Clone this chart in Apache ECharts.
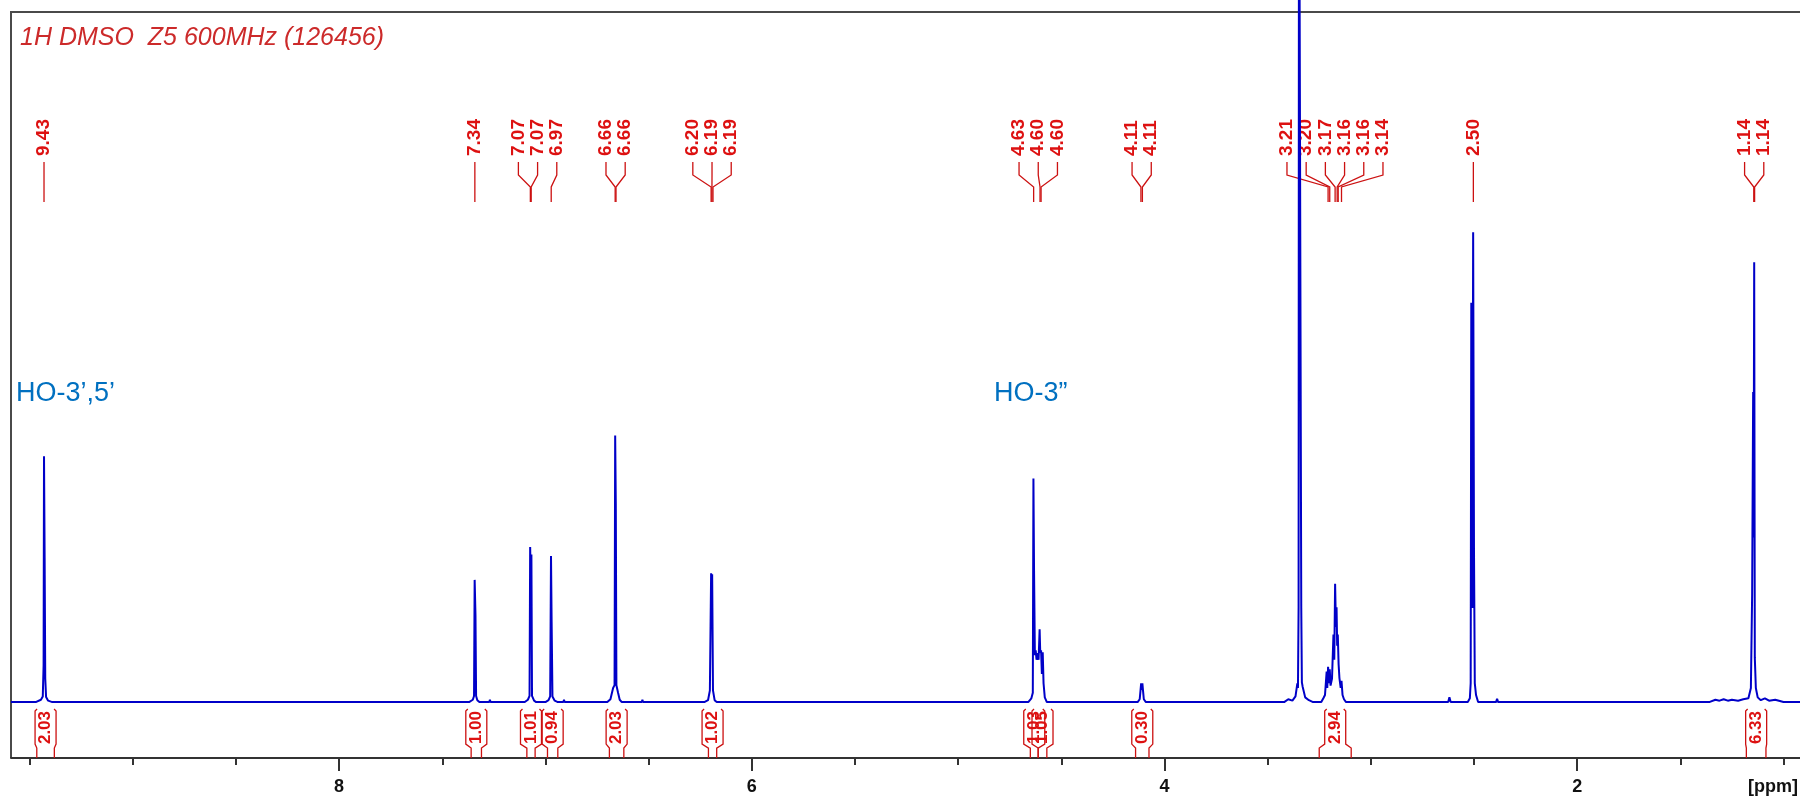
<!DOCTYPE html>
<html>
<head>
<meta charset="utf-8">
<script src="https://cdn.jsdelivr.net/npm/echarts@6/dist/echarts.min.js"></script>
<style>
  html, body { margin: 0; padding: 0; background: #fff; }
  #chart { width: 1800px; height: 800px; }
</style>
</head>
<body>
<div id="chart"></div>
<script>
// axis range (ppm, high field on the right)
const ppmMax = 9.59
const ppmMin = 0.92
const minorTicks = [9.5, 9, 8.5, 8, 7.5, 7, 6.5, 6, 5.5, 5, 4.5, 4, 3.5, 3, 2.5, 2, 1.5, 1]
const majorTicks = [8, 6, 4, 2]
// intensity, relative (DMSO 2.50 ~ 100)
const yMin = -11.9
const yMax = 149.4

// spectrum: [ppm, intensity]
const sigOH35 = [[9.47, 0], [9.445, 0.5], [9.436, 1.2], [9.432, 7.9], [9.430, 52.3], [9.427, 30.7], [9.424, 5], [9.42, 1.1], [9.41, 0.3], [9.39, 0]]
const sigH2 = [[7.37, 0], [7.352, 0.5], [7.346, 1.3], [7.343, 26.0], [7.339, 18.5], [7.336, 1.3], [7.33, 0.4], [7.32, 0]]
const sigH6 = [[7.10, 0], [7.085, 0.5], [7.077, 1.3], [7.074, 33.0], [7.071, 25], [7.068, 31.4], [7.065, 1.3], [7.055, 0.3], [7.045, 0]]
const sigH5 = [[7.00, 0], [6.985, 0.4], [6.977, 1.2], [6.973, 31.1], [6.970, 17.2], [6.966, 1.2], [6.955, 0.3], [6.94, 0]]
const sigH26 = [[6.70, 0], [6.685, 0.6], [6.672, 3.0], [6.665, 3.6], [6.662, 56.7], [6.659, 42.3], [6.656, 3.6], [6.648, 2.0], [6.64, 0.5], [6.63, 0]]
const sigH4 = [[6.23, 0], [6.212, 0.4], [6.203, 2.5], [6.197, 27.4], [6.195, 20], [6.192, 27.2], [6.188, 2.5], [6.18, 0.4], [6.17, 0]]
const sigOH3 = [[4.66, 0], [4.645, 0.8], [4.638, 2], [4.635, 47.6], [4.632, 27.9], [4.628, 10], [4.624, 11], [4.620, 9], [4.614, 10.4], [4.610, 9], [4.605, 15.5], [4.602, 10.5], [4.598, 11], [4.594, 6], [4.590, 10.6], [4.586, 4], [4.58, 1], [4.57, 0]]
const sigH3 = [[4.13, 0], [4.12, 0.6], [4.116, 2.5], [4.113, 4.0], [4.110, 2.6], [4.107, 4.0], [4.104, 2.5], [4.10, 0.6], [4.09, 0]]
const sigWater = [[3.42, 0], [3.40, 0.6], [3.38, 0.3], [3.365, 1.2], [3.356, 4.0], [3.353, 3], [3.350, 20], [3.348, 200], [3.339, 200], [3.337, 20], [3.334, 4.2], [3.33, 3.2], [3.325, 3.6], [3.318, 1.0], [3.30, 0.4], [3.28, 0]]
const sigSugar = [[3.24, 0], [3.23, 0.8], [3.222, 1.5], [3.214, 6.5], [3.211, 3], [3.207, 7.5], [3.203, 4], [3.199, 7.0], [3.195, 3.5], [3.188, 5], [3.181, 14.4], [3.177, 9], [3.173, 25.2], [3.169, 16], [3.166, 20.2], [3.163, 12], [3.160, 14.4], [3.156, 8], [3.152, 5.1], [3.146, 3], [3.142, 4.5], [3.137, 1.5], [3.13, 0.6], [3.12, 0]]
const sigDmso = [[2.53, 0], [2.52, 0.8], [2.516, 4], [2.513, 85], [2.508, 20], [2.504, 100], [2.500, 32.6], [2.496, 4], [2.49, 1.5], [2.48, 0]]
const sigMe = [[1.36, 0], [1.33, 0.5], [1.31, 0.3], [1.29, 0.6], [1.27, 0.3], [1.25, 0.5], [1.22, 0.3], [1.195, 0.6], [1.17, 0.8], [1.158, 3], [1.152, 22.8], [1.147, 66], [1.145, 35], [1.142, 93.6], [1.139, 9.4], [1.134, 3], [1.125, 1.0], [1.11, 0.4], [1.09, 0.8], [1.07, 0.3], [1.04, 0.5], [1.00, 0]]
const smallBumps = [[7.272, 0], [7.269, 0.5], [7.266, 0], [6.913, 0], [6.91, 0.5], [6.907, 0], [6.812, 0], [6.809, 0.4], [6.806, 0],
  [6.793, 0], [6.79, 0.4], [6.787, 0], [6.723, 0], [6.72, 0.4], [6.717, 0], [6.533, 0], [6.53, 0.5], [6.527, 0],
  [3.05, 0], [3.047, 0.4], [3.044, 0], [2.625, 0], [2.619, 1.0], [2.613, 0], [2.393, 0], [2.388, 0.7], [2.383, 0], [1.903, 0], [1.90, 0.3], [1.897, 0]]

// peak picking (ppm)
const peakPpm = [9.430, 7.342, 7.073, 7.069, 6.972, 6.662, 6.658, 6.197, 6.193, 6.188, 4.634, 4.603, 4.598, 4.114, 4.107, 3.207, 3.199, 3.173, 3.163, 3.158, 3.142, 2.503, 1.144, 1.140]

// integrals
const integralFrom = [9.465, 7.36, 7.09, 6.99, 6.69, 6.21, 4.65, 4.612, 4.14, 3.25, 1.18]
const integralTo = [9.38, 7.31, 7.05, 6.94, 6.62, 6.17, 4.612, 4.57, 4.075, 3.095, 1.085]
const integralValues = [2.03, 1.00, 1.01, 0.94, 2.03, 1.02, 1.03, 1.05, 0.30, 2.94, 6.33]

const RED_TEXT = '#dd1111'
const RED_LINE = '#cc1111'
const LABEL_GAP = 19.2

let spectrum = [[ppmMax, 0], [ppmMin, 0]].concat(sigOH35, sigH2, sigH6, sigH5, sigH26, sigH4, sigOH3, sigH3,
  sigWater, sigSugar, sigDmso, sigMe, smallBumps)
spectrum.sort((a, b) => b[0] - a[0])

// spread labels that would overlap, keeping groups centred on their peaks
function spreadLabels(xs) {
  let clusters = xs.map((x, i) => ({ items: [i], sum: x }))
  const place = c => { c.start = c.sum / c.items.length - (c.items.length - 1) * LABEL_GAP / 2 }
  clusters.forEach(place)
  let changed = true
  while (changed) {
    changed = false
    for (let i = 0; i < clusters.length - 1; i++) {
      const a = clusters[i], b = clusters[i + 1]
      if (a.start + a.items.length * LABEL_GAP > b.start) {
        a.items = a.items.concat(b.items)
        a.sum += b.sum
        place(a)
        clusters.splice(i + 1, 1)
        changed = true
        break
      }
    }
  }
  const out = []
  clusters.forEach(c => c.items.forEach((idx, k) => { out[idx] = c.start + k * LABEL_GAP }))
  return out
}

function renderPeakLabel(params, api) {
  const xs = peakPpm.map(p => api.coord([p, 0])[0])
  const lx = spreadLabels(xs)
  const i = params.dataIndex
  const px = xs[i]
  return {
    type: 'group',
    children: [
      {
        type: 'text', x: lx[i], y: 156, rotation: Math.PI / 2,
        style: { text: peakPpm[i].toFixed(2), fill: RED_TEXT, font: 'bold 19px "Liberation Sans", Arial, sans-serif', align: 'left', verticalAlign: 'middle' }
      },
      {
        type: 'polyline',
        shape: { points: [[lx[i], 162], [lx[i], 175], [px, 187], [px, 202]] },
        style: { stroke: RED_LINE, lineWidth: 1.3, fill: null }
      }
    ]
  }
}

function renderIntegral(params, api) {
  const i = params.dataIndex
  const xa = api.coord([integralFrom[i], 0])[0]
  const xb = api.coord([integralTo[i], 0])[0]
  const base = api.coord([integralFrom[i], 0])[1]
  const axisY = api.coord([integralFrom[i], yMin])[1]
  const cx = (xa + xb) / 2
  const hw = 10.5
  const top = base + 7
  const bot = base + 42
  return {
    type: 'group',
    children: [
      { type: 'polyline', shape: { points: [[cx - hw + 2, top], [cx - hw, top + 2], [cx - hw, bot], [xa, bot + 4], [xa, axisY]] }, style: { stroke: RED_LINE, lineWidth: 1.3, fill: null } },
      { type: 'polyline', shape: { points: [[cx + hw - 2, top], [cx + hw, top + 2], [cx + hw, bot], [xb, bot + 4], [xb, axisY]] }, style: { stroke: RED_LINE, lineWidth: 1.3, fill: null } },
      {
        type: 'text', x: cx, y: bot, rotation: Math.PI / 2,
        style: { text: integralValues[i].toFixed(2), fill: RED_TEXT, font: 'bold 17px "Liberation Sans", Arial, sans-serif', align: 'left', verticalAlign: 'middle' }
      }
    ]
  }
}

const chart = echarts.init(document.getElementById('chart'))
chart.setOption({
  animation: false,
  backgroundColor: '#ffffff',
  grid: { left: 11, right: 0, top: 0, bottom: 42 },
  xAxis: [
    {
      type: 'value', min: ppmMin, max: ppmMax, inverse: true, position: 'bottom',
      axisLine: { show: true, onZero: false, lineStyle: { color: '#333', width: 2 } },
      axisTick: { show: true, length: 7, customValues: minorTicks, lineStyle: { color: '#333', width: 2 } },
      axisLabel: { show: false },
      splitLine: { show: false }
    },
    {
      type: 'value', min: ppmMin, max: ppmMax, inverse: true, position: 'bottom',
      axisLine: { show: false, onZero: false },
      axisTick: { show: true, length: 13, customValues: majorTicks, lineStyle: { color: '#333', width: 2 } },
      axisLabel: { show: true, customValues: majorTicks, margin: 20, color: '#111', fontWeight: 'bold', fontSize: 18, fontFamily: '"Liberation Sans", Arial, sans-serif' },
      splitLine: { show: false }
    }
  ],
  yAxis: { type: 'value', min: yMin, max: yMax, show: false },
  graphic: [
    { type: 'polyline', shape: { points: [[11, 758], [11, 12], [1800, 12]] }, style: { stroke: '#4a4a4a', lineWidth: 2, fill: null }, z: 0 },
    { type: 'text', x: 20, y: 38, style: { text: '1H DMSO  Z5 600MHz (126456)', font: 'italic 25px "Liberation Sans", Arial, sans-serif', fill: '#cc2a2a', verticalAlign: 'middle' } },
    { type: 'text', x: 16, y: 394, style: { text: 'HO-3’,5’', font: '27px "Liberation Sans", Arial, sans-serif', fill: '#0070c0', verticalAlign: 'middle' } },
    { type: 'text', x: 994, y: 394, style: { text: 'HO-3”', font: '27px "Liberation Sans", Arial, sans-serif', fill: '#0070c0', verticalAlign: 'middle' } },
    { type: 'text', x: 1798, y: 787, style: { text: '[ppm]', font: 'bold 18px "Liberation Sans", Arial, sans-serif', fill: '#111', align: 'right', verticalAlign: 'middle' } }
  ],
  series: [
    {
      type: 'custom', name: 'peaks', xAxisIndex: 0, yAxisIndex: 0, silent: true, z: 2,
      data: peakPpm.map(p => [p, 0]), encode: { x: 0, y: 1 },
      renderItem: renderPeakLabel
    },
    {
      type: 'custom', name: 'integrals', xAxisIndex: 0, yAxisIndex: 0, silent: true, z: 2,
      data: integralFrom.map((f, i) => [f, integralTo[i], 0]), encode: { x: [0, 1], y: 2 },
      renderItem: renderIntegral
    },
    {
      type: 'line', name: '1H', xAxisIndex: 0, yAxisIndex: 0, z: 5,
      data: spectrum, showSymbol: false, symbol: 'none', clip: true,
      lineStyle: { color: '#0000c8', width: 2 }
    }
  ]
})
</script>
</body>
</html>
